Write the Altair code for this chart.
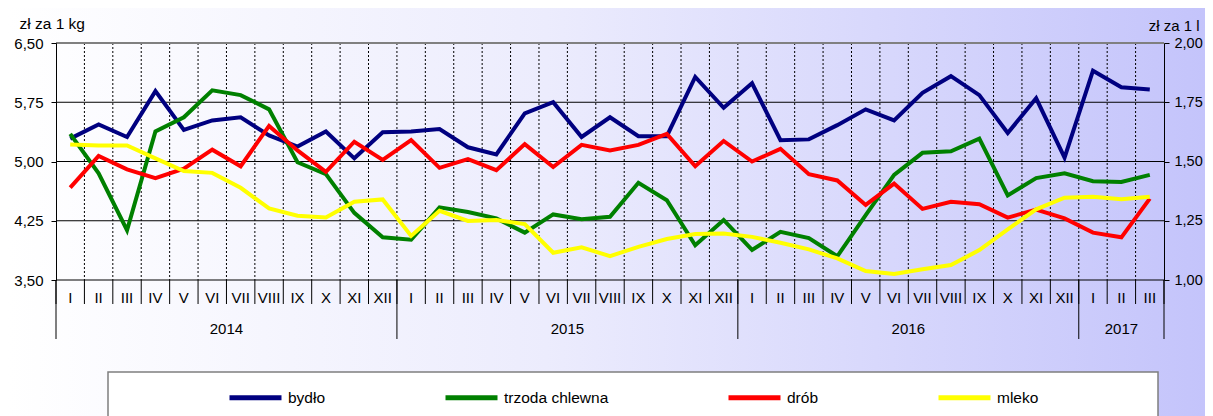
import altair as alt
import pandas as pd

# ---- data ----
months = ["I", "II", "III", "IV", "V", "VI", "VII", "VIII", "IX", "X", "XI", "XII"] * 3 + ["I", "II", "III"]
years = ["2014", "2015", "2016", "2017"]
year_months = [12, 12, 12, 3]
series = ["bydło", "trzoda chlewna", "drób", "mleko"]
colors = ["#000080", "#008000", "#ff0000", "#ffff00"]

bydlo = [5.29, 5.47, 5.31, 5.89, 5.40, 5.52, 5.56, 5.33, 5.19, 5.38, 5.04, 5.37,
         5.38, 5.41, 5.18, 5.09, 5.61, 5.75, 5.31, 5.56, 5.32, 5.32, 6.07, 5.68,
         5.99, 5.27, 5.28, 5.46, 5.66, 5.52, 5.87, 6.08, 5.84, 5.36, 5.80, 5.05,
         6.15, 5.94, 5.91]
trzoda = [5.35, 4.85, 4.13, 5.38, 5.56, 5.90, 5.84, 5.66, 4.99, 4.84, 4.35, 4.04,
          4.01, 4.42, 4.36, 4.28, 4.10, 4.33, 4.27, 4.30, 4.73, 4.51, 3.94, 4.26,
          3.88, 4.11, 4.03, 3.80, 4.32, 4.83, 5.11, 5.13, 5.29, 4.57, 4.79, 4.85,
          4.75, 4.74, 4.83]
drob = [4.67, 5.07, 4.90, 4.79, 4.91, 5.15, 4.94, 5.45, 5.14, 4.87, 5.25, 5.02,
        5.27, 4.92, 5.03, 4.89, 5.22, 4.93, 5.21, 5.14, 5.21, 5.35, 4.94, 5.26,
        5.00, 5.16, 4.84, 4.76, 4.45, 4.72, 4.40, 4.49, 4.46, 4.29, 4.39, 4.28,
        4.10, 4.04, 4.53]
mleko = [1.572, 1.568, 1.568, 1.513, 1.460, 1.452, 1.389, 1.302, 1.271, 1.264, 1.330, 1.340,
         1.186, 1.292, 1.249, 1.253, 1.236, 1.115, 1.138, 1.101, 1.140, 1.173, 1.194, 1.196,
         1.182, 1.157, 1.129, 1.091, 1.038, 1.025, 1.045, 1.063, 1.126, 1.214, 1.298, 1.347,
         1.351, 1.341, 1.351]

left_ticks = [3.50, 4.25, 5.00, 5.75, 6.50]
right_ticks = [1.00, 1.25, 1.50, 1.75, 2.00]

# ---- tables ----
rows = []
for name, vals in zip(series, [bydlo, trzoda, drob, mleko]):
    for i, v in enumerate(vals):
        rows.append({"seria": name, "m": i + 0.5, "v": v})
df = pd.DataFrame(rows)

n = len(months)
mlab = pd.DataFrame({"m": [i + 0.5 for i in range(n)], "lab": months})
mbound = pd.DataFrame({"b": list(range(n + 1))})
vgrid = pd.DataFrame({"b": list(range(1, n))})
ybounds = [0]
for c in year_months:
    ybounds.append(ybounds[-1] + c)
ybound = pd.DataFrame({"b": ybounds})
ylab = pd.DataFrame({"m": [(ybounds[i] + ybounds[i + 1]) / 2 for i in range(len(years))], "lab": years})
hgrid = pd.DataFrame({"g": left_ticks[:-1]})
htop = pd.DataFrame({"g": [left_ticks[-1]]})
one = pd.DataFrame({"a": [0]})

W, H = 1108, 237
FONT = "Liberation Sans"

xscale = alt.Scale(domain=[0, n], nice=False, zero=False)
yL = alt.Scale(domain=[left_ticks[0], left_ticks[-1]], nice=False, zero=False)
yR = alt.Scale(domain=[right_ticks[0], right_ticks[-1]], nice=False, zero=False)
cscale = alt.Scale(domain=series, range=colors)

label_expr = "replace(format(datum.value, '.2f'), '.', ',')"

bg = alt.Chart(one).mark_rect(
    fill=alt.Gradient(gradient="linear", x1=0, x2=1, y1=0, y2=0,
                      stops=[alt.GradientStop(offset=0, color="#ffffff"),
                             alt.GradientStop(offset=0.45, color="#ececfd"),
                             alt.GradientStop(offset=1, color="#c4c4fb")])
).encode(x=alt.value(-48), x2=alt.value(W + 41), y=alt.value(-35), y2=alt.value(H + 140))

legbox = alt.Chart(one).mark_rect(fill="white", stroke="#7f7f7f", strokeWidth=1.5).encode(
    x=alt.value(52), x2=alt.value(1102), y=alt.value(329), y2=alt.value(H + 160))

hg = alt.Chart(hgrid).mark_rule(color="black", strokeWidth=1).encode(
    y=alt.Y("g:Q", scale=yL, axis=None))
ht = alt.Chart(htop).mark_rule(color="#808080", strokeWidth=2).encode(
    y=alt.Y("g:Q", scale=yL, axis=None))

vg = alt.Chart(vgrid).mark_rule(color="black", strokeWidth=1, strokeDash=[2, 2]).encode(
    x=alt.X("b:Q", scale=xscale, axis=None))

msep = alt.Chart(mbound).mark_rule(color="black", strokeWidth=1).encode(
    x=alt.X("b:Q", scale=xscale, axis=None), y=alt.value(H), y2=alt.value(H + 24))
ysep = alt.Chart(ybound).mark_rule(color="black", strokeWidth=1).encode(
    x=alt.X("b:Q", scale=xscale, axis=None), y=alt.value(H), y2=alt.value(H + 59))

mtext = alt.Chart(mlab).mark_text(fontSize=15, font=FONT, baseline="middle", color="black").encode(
    x=alt.X("m:Q", scale=xscale, axis=None), y=alt.value(H + 18), text="lab:N")
ytext = alt.Chart(ylab).mark_text(fontSize=15, font=FONT, baseline="middle", color="black").encode(
    x=alt.X("m:Q", scale=xscale, axis=None), y=alt.value(H + 49), text="lab:N")

legend = alt.Legend(
    title=None, orient="none", legendX=171, legendY=326, direction="horizontal", columns=4,
    columnPadding=109, symbolType="stroke", symbolStrokeWidth=5, symbolSize=2704,
    labelFontSize=15.5, labelFont=FONT, labelOffset=4, labelColor="black")

left_axis = alt.Axis(
    orient="left", values=left_ticks, labelExpr=label_expr, labelFontSize=15, labelFont=FONT,
    labelColor="black", tickSize=5, tickColor="black", domainColor="black", grid=False,
    labelPadding=8, title="zł za 1 kg", titleAngle=0, titleAlign="left", titleX=-37, titleY=-20,
    titleBaseline="middle", titleFontWeight="normal", titleFontSize=15.5, titleFont=FONT,
    titleColor="black", zindex=1)
right_axis = alt.Axis(
    orient="right", values=right_ticks, labelExpr=label_expr, labelFontSize=14.5, labelFont=FONT,
    labelColor="black", tickSize=5, tickColor="black", domainColor="black", grid=False,
    labelPadding=5, title="zł za 1 l", titleAngle=0, titleAlign="right", titleX=35, titleY=-18,
    titleBaseline="middle", titleFontWeight="normal", titleFontSize=15, titleFont=FONT,
    titleColor="black", zindex=1)


def line(name, scale, axis):
    return alt.Chart(df).transform_filter(alt.datum.seria == name).mark_line(
        strokeWidth=4, strokeJoin="miter").encode(
        x=alt.X("m:Q", scale=xscale, axis=None),
        y=alt.Y("v:Q", scale=scale, axis=axis),
        color=alt.Color("seria:N", scale=cscale, legend=legend, sort=series),
    )


l1 = line("bydło", yL, left_axis)
l2 = line("trzoda chlewna", yL, None)
l3 = line("drób", yL, None)
l4 = line("mleko", yR, right_axis)

chart = alt.layer(bg, legbox, hg, vg, ht, msep, ysep, mtext, ytext, l1, l2, l3, l4).resolve_scale(
    y="independent").properties(
    width=W, height=H,
    autosize=alt.AutoSizeParams(type="none"),
    padding={"left": 48, "top": 35, "right": 41, "bottom": 136},
).configure_view(strokeWidth=0).configure(background="white", font=FONT)

chart.save("out.html", embed_options={"renderer": "svg", "actions": False})
